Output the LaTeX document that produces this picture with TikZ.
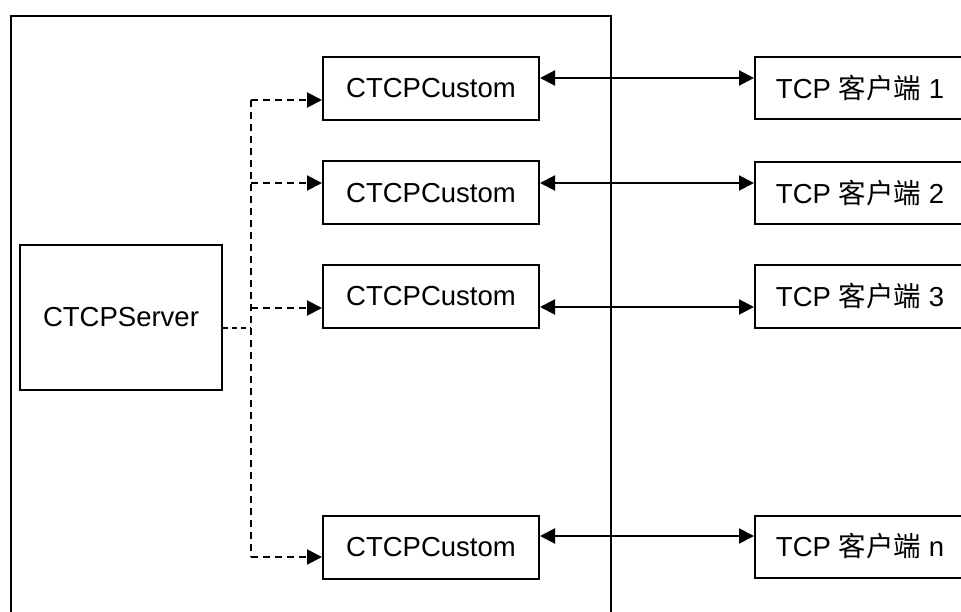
\documentclass[tikz,border=0pt]{standalone}
\usepackage{fontspec}
\setmainfont{Liberation Sans}
\newfontfamily\cjk{Noto Sans CJK SC}
\usetikzlibrary{arrows.meta}
\begin{document}
\begin{tikzpicture}[x=1pt,y=-1pt,
  box/.style={draw,line width=2pt,rectangle,inner sep=0pt,font=\fontsize{27.5}{30}\selectfont},
  cust/.style={box,minimum width=216pt,minimum height=63pt},
  cli/.style={box,minimum width=210pt,minimum height=62pt},
  dbl/.style={line width=2pt,{Triangle[length=15pt,width=15pt]}-{Triangle[length=15pt,width=15pt]}},
  dsh/.style={line width=2pt,dash pattern=on 7pt off 5pt},
  dsharr/.style={dsh,-{Triangle[length=15pt,width=15pt]}}]
\useasboundingbox (0,0) rectangle (961,612);
\clip (0,0) rectangle (961,612);
\fill[white] (0,0) rectangle (961,612);
% host container
\node[draw,line width=2pt,minimum width=600pt,minimum height=620pt,inner sep=0pt] (host) at (311,326) {};
% server
\node[box,minimum width=202pt,minimum height=145pt] (srv) at (121,317.5) {CTCPServer};
% custom boxes
\node[cust] (c1) at (431,88.5) {CTCPCustom};
\node[cust] (c2) at (431,193) {CTCPCustom};
\node[cust] (c3) at (431,296.5) {CTCPCustom};
\node[cust] (c4) at (431,547) {CTCPCustom};
% clients
\node[cli] (k1) at (860,88.5) {TCP {\cjk 客户端} 1};
\node[cli] (k2) at (860,193) {TCP {\cjk 客户端} 2};
\node[cli] (k3) at (860,296.5) {TCP {\cjk 客户端} 3};
\node[cli] (k4) at (860,546.5) {TCP {\cjk 客户端} n};
% solid double arrows
\draw[dbl] (c1.east |- 0,78) -- (k1.west |- 0,78);
\draw[dbl] (c2.east |- 0,183) -- (k2.west |- 0,183);
\draw[dbl] (c3.east |- 0,307) -- (k3.west |- 0,307);
\draw[dbl] (c4.east |- 0,536) -- (k4.west |- 0,536);
% dashed tree
\coordinate (jn) at (251,328);
\coordinate (top) at (251,100);
\coordinate (bot) at (251,557);
\draw[dsh,line width=1.5pt,dash pattern=on 5pt off 4pt] (srv.east |- jn) -- (jn);
\draw[dsh] (top) -- (bot);
\draw[dsharr] (top) -- (c1.west |- top);
\draw[dsharr] (top |- 0,183) -- (c2.west |- 0,183);
\draw[dsharr] (top |- 0,308) -- (c3.west |- 0,308);
\draw[dsharr] (bot) -- (c4.west |- bot);
\end{tikzpicture}
\end{document}
